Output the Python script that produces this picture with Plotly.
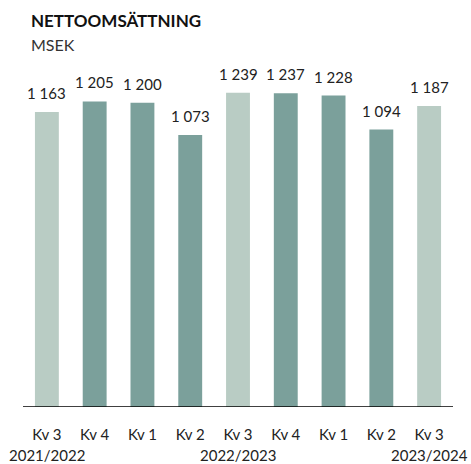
import plotly.graph_objects as go

categories = ["Kv 3", "Kv 4", "Kv 1", "Kv 2", "Kv 3", "Kv 4", "Kv 1", "Kv 2", "Kv 3"]
values = [1163, 1205, 1200, 1073, 1239, 1237, 1228, 1094, 1187]
value_labels = ["1 163", "1 205", "1 200", "1 073", "1 239", "1 237", "1 228", "1 094", "1 187"]
years = [(0, "2021/2022"), (4, "2022/2023"), (8, "2023/2024")]
highlight = [True, False, False, False, True, False, False, False, True]

LIGHT = "#B9CCC4"
DARK = "#7BA09B"
FONT = "Lato"

x = list(range(len(categories)))
colors = [LIGHT if h else DARK for h in highlight]

fig = go.Figure()
fig.add_trace(go.Bar(x=x, y=values, marker=dict(color=colors, line=dict(width=0)),
                     width=0.5, hoverinfo="skip"))

for i, (v, t) in enumerate(zip(values, value_labels)):
    fig.add_annotation(x=i, y=v, text=t, showarrow=False, yanchor="bottom",
                       yshift=8, font=dict(family=FONT, size=15, color="#222"))

for i, t in years:
    fig.add_annotation(x=i, y=0, yref="y", text=t, showarrow=False, yanchor="middle",
                       yshift=-48, font=dict(family=FONT, size=15, color="#222"))

fig.add_annotation(text="<b>NETTOOMSÄTTNING</b>", xref="paper", yref="paper",
                   x=0, y=1.0, xanchor="left", yanchor="middle", yshift=32, xshift=6,
                   showarrow=False, font=dict(family=FONT, size=17, color="#111"))
fig.add_annotation(text="MSEK", xref="paper", yref="paper",
                   x=0, y=1.0, xanchor="left", yanchor="middle", yshift=8, xshift=6,
                   showarrow=False, font=dict(family=FONT, size=16, color="#333"))

fig.update_layout(
    width=471, height=464,
    margin=dict(l=23, r=18, t=52, b=57),
    paper_bgcolor="white", plot_bgcolor="white",
    showlegend=False,
    xaxis=dict(range=[-0.5, 8.5], tickmode="array", tickvals=x, ticktext=categories,
               showgrid=False, zeroline=False, showline=False, ticks="",
               ticklabelstandoff=17,
               tickfont=dict(family=FONT, size=15, color="#222"), fixedrange=True),
    yaxis=dict(range=[0, 1400], showgrid=False, zeroline=False, showline=False,
               showticklabels=False, ticks="", fixedrange=True),
    shapes=[dict(type="line", xref="paper", yref="y", x0=0, x1=1, y0=0, y1=0,
                 line=dict(color="black", width=1.5))],
)

fig.write_html("out.html", config={"displayModeBar": False},
               post_script="document.body.style.margin='0';document.body.style.padding='0';")
